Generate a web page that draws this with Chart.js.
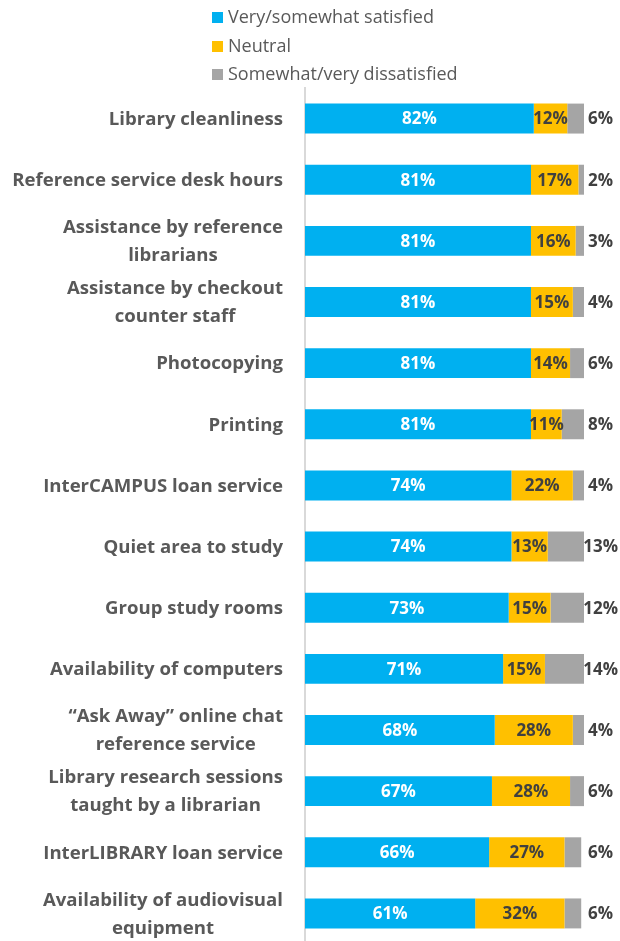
<!DOCTYPE html>
<html>
<head>
<meta charset="utf-8">
<script src="https://cdn.jsdelivr.net/npm/chart.js@4.4.1/dist/chart.umd.min.js"></script>
<style>
  html, body { margin:0; padding:0; background:#fff; overflow:hidden; }
  #wrap { width:620px; height:944px; position:relative; }
</style>
</head>
<body>
<div id="wrap"><canvas id="chart"></canvas></div>
<script>
/* =========================
   DATA
========================= */
const categories = [
  ["Library cleanliness"],
  ["Reference service desk hours"],
  ["Assistance by reference", "librarians"],
  ["Assistance by checkout", "counter staff"],
  ["Photocopying"],
  ["Printing"],
  ["InterCAMPUS loan service"],
  ["Quiet area to study"],
  ["Group study rooms"],
  ["Availability of computers"],
  ["\u201CAsk Away\u201D online chat", "reference service"],
  ["Library research sessions", "taught by a librarian"],
  ["InterLIBRARY loan service"],
  ["Availability of audiovisual", "equipment"]
]

const seriesNames = ["Very/somewhat satisfied", "Neutral", "Somewhat/very dissatisfied"]
const satisfied    = [82, 81, 81, 81, 81, 81, 74, 74, 73, 71, 68, 67, 66, 61]
const neutral      = [12, 17, 16, 15, 14, 11, 22, 13, 15, 15, 28, 28, 27, 32]
const dissatisfied = [ 6,  2,  3,  4,  6,  8,  4, 13, 12, 14,  4,  6,  6,  6]

const colors = ["#00B0F0", "#FFC000", "#A5A5A5"]
const FONT = "'Open Sans', 'Liberation Sans', sans-serif"
const GREY_TEXT = "#595959"

/* =========================
   PLUGINS
========================= */
// legend as a vertical list above the plot
const legendList = {
  id: "legendList",
  afterDraw(chart){
    const ctx = chart.ctx
    ctx.save()
    ctx.font = "18px " + FONT
    ctx.textBaseline = "middle"
    ctx.textAlign = "left"
    const rowsY = [17, 46, 74]
    chart.data.datasets.forEach((ds, i) => {
      ctx.fillStyle = ds.backgroundColor
      ctx.fillRect(212, rowsY[i] - 5, 11, 11)
      ctx.fillStyle = GREY_TEXT
      ctx.fillText(ds.label, 228, rowsY[i] + 1)
    })
    ctx.restore()
  }
}

// category labels: lines centred on each other, block right aligned
const catLabels = {
  id: "catLabels",
  afterDraw(chart){
    const ctx = chart.ctx
    const y = chart.scales.y
    ctx.save()
    ctx.font = "bold 18.6px " + FONT
    ctx.fillStyle = GREY_TEXT
    ctx.textAlign = "center"
    ctx.textBaseline = "middle"
    const right = 283
    const lh = 28
    categories.forEach((lines, i) => {
      const py = y.getPixelForTick(i)
      const w = Math.max(...lines.map(l => ctx.measureText(l).width))
      const cx = right - w / 2
      const y0 = py - (lines.length - 1) * lh / 2
      lines.forEach((l, k) => ctx.fillText(l, cx, y0 + k * lh + 1))
    })
    ctx.restore()
  }
}

// value labels on segments
const valueLabels = {
  id: "valueLabels",
  afterDatasetsDraw(chart){
    const ctx = chart.ctx
    ctx.save()
    ctx.font = "bold 17px " + FONT
    ctx.textBaseline = "middle"
    chart.data.datasets.forEach((ds, di) => {
      const meta = chart.getDatasetMeta(di)
      meta.data.forEach((bar, i) => {
        const txt = ds.data[i] + "%"
        if(di === 2){
          ctx.textAlign = "left"
          ctx.fillStyle = "#404040"
          const w = ctx.measureText(txt).width
          ctx.fillText(txt, Math.min(chart.chartArea.right + 4, 618 - w), bar.y + 1)
        }else{
          ctx.textAlign = "center"
          ctx.fillStyle = di === 0 ? "#ffffff" : "#404040"
          ctx.fillText(txt, (bar.base + bar.x) / 2, bar.y + 1)
        }
      })
    })
    ctx.restore()
  }
}

/* =========================
   CHART
========================= */
const seriesValues = [satisfied, neutral, dissatisfied]

new Chart(document.getElementById("chart"), {
  type: "bar",
  data: {
    labels: categories.map(c => c.join(" ")),
    datasets: seriesNames.map((name, i) => ({
      label: name,
      data: seriesValues[i],
      backgroundColor: colors[i],
      borderWidth: 0,
      barPercentage: 0.49,
      categoryPercentage: 1
    }))
  },
  options: {
    indexAxis: "y",
    responsive: true,
    maintainAspectRatio: false,
    animation: false,
    layout: { padding: { top: 88, right: 36, bottom: 0, left: 0 } },
    plugins: {
      legend: { display: false },
      tooltip: { enabled: false }
    },
    scales: {
      x: {
        stacked: true,
        min: 0,
        max: 100,
        display: false
      },
      y: {
        stacked: true,
        grid: { display: false },
        border: { display: true, color: "#D9D9D9", width: 2 },
        ticks: { display: false },
        afterFit(scale){ scale.width = 305 }
      }
    }
  },
  plugins: [legendList, catLabels, valueLabels]
})
</script>
</body>
</html>
